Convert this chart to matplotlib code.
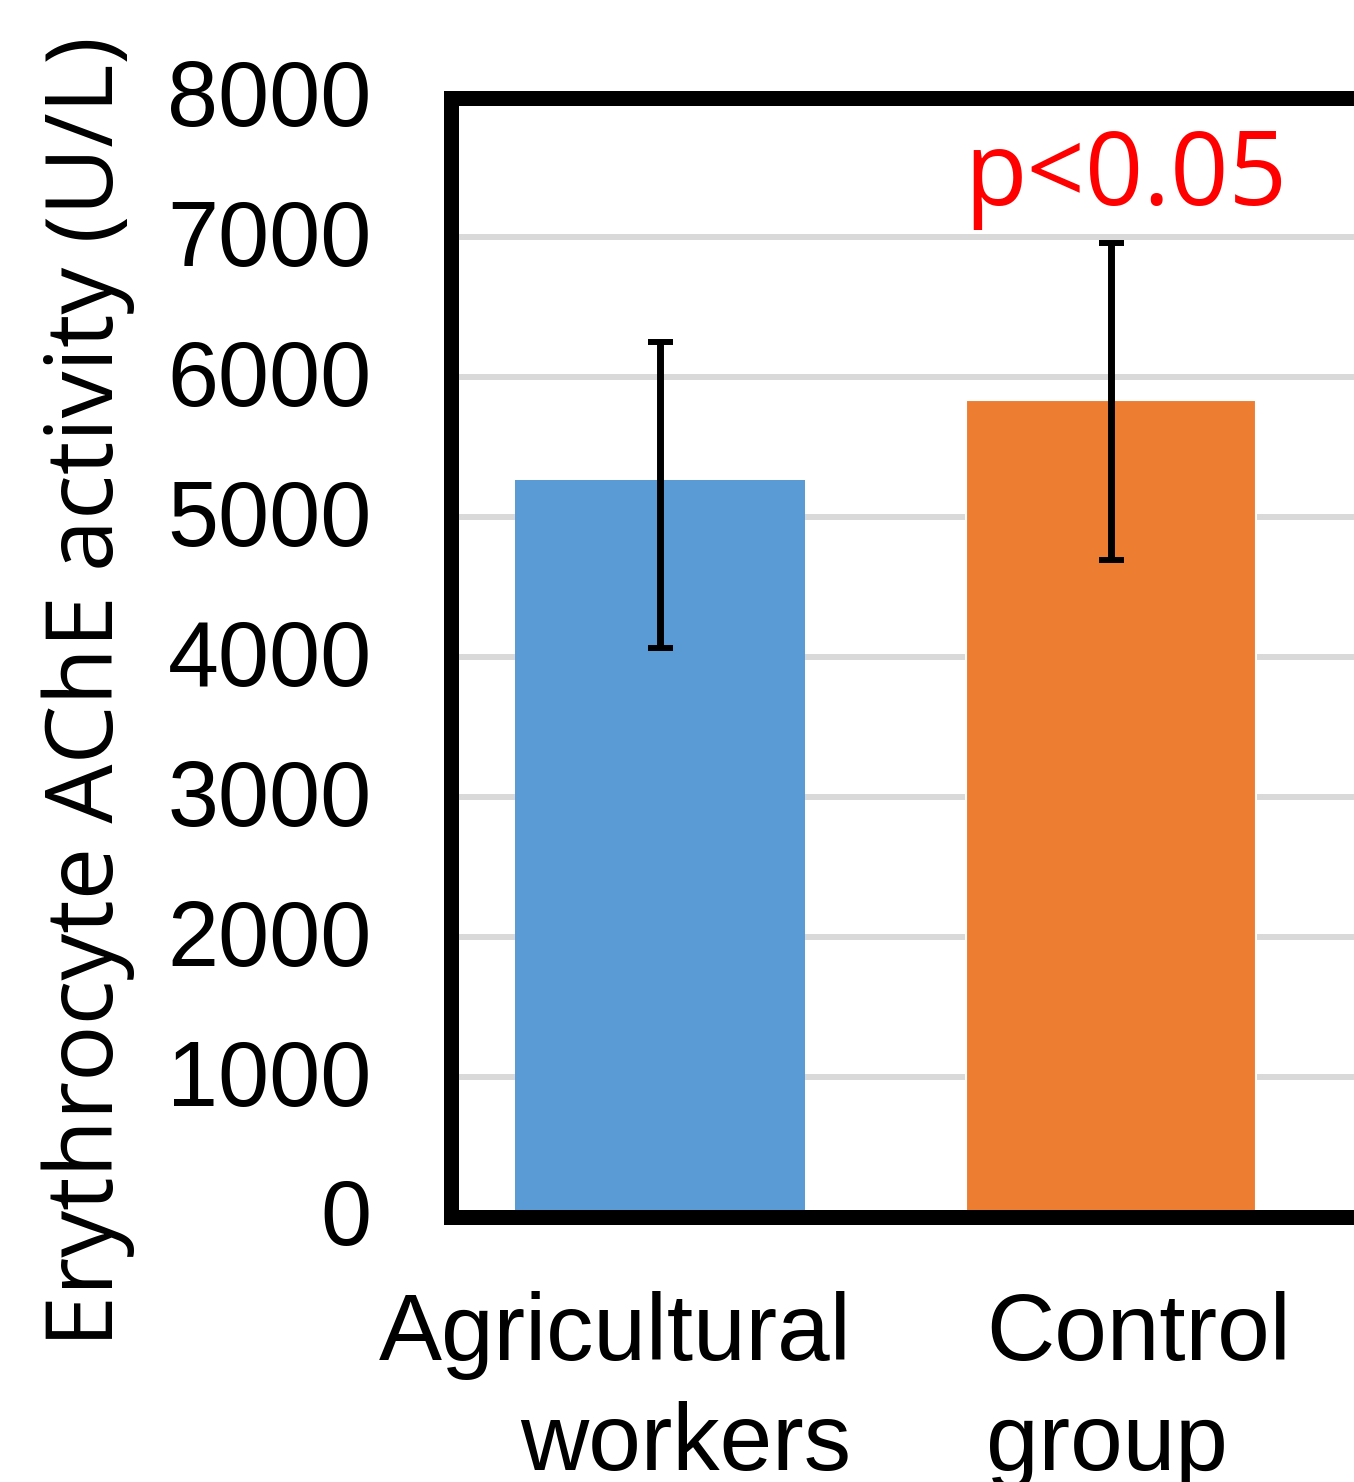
import numpy as np
import matplotlib
matplotlib.use("Agg")
import matplotlib.pyplot as plt
import matplotlib.transforms as mtransforms

# data
groups = ["Agricultural\nworkers", "Control\ngroup"]
means = [5264, 5836]
err_low = [1195, 1143]
err_high = [988, 1123]
colors = ["#5B9BD5", "#ED7D31"]
yticks = [0, 1000, 2000, 3000, 4000, 5000, 6000, 7000, 8000]

W, H = 1354, 1482
fig = plt.figure(figsize=(W / 100, H / 100), dpi=100)

# axes frame (right side runs off the picture)
x0, x1 = 451, 1400
y0, y1 = 1217, 97.5
ax = fig.add_axes([x0 / W, (H - y0) / H, (x1 - x0) / W, (y0 - y1) / H])

x = np.arange(len(groups))
ax.set_xlim(-0.463, 1.641)
ax.set_ylim(0, 8000)

ax.set_yticks(yticks)
ax.set_yticklabels([str(v) for v in yticks], fontsize=66, family="Liberation Sans")
ax.tick_params(axis="y", length=0, pad=57)
ax.set_xticks([])
# nudge tick numbers up a little
up = mtransforms.ScaledTranslation(0, 5 / 100, fig.dpi_scale_trans)
for lab in ax.get_yticklabels():
    lab.set_transform(lab.get_transform() + up)

ax.yaxis.grid(True, color="#D9D9D9", linewidth=4.3, zorder=0)
ax.set_axisbelow(True)

for s in ["left", "top", "bottom"]:
    ax.spines[s].set_linewidth(10.8)
    ax.spines[s].set_color("black")
    ax.spines[s].set_capstyle("projecting")
    ax.spines[s].set_zorder(5)
ax.spines["right"].set_visible(False)

bars = ax.bar(x, means, width=0.643, color=colors, zorder=2)
bars[1].set_edgecolor("white")
bars[1].set_linewidth(1.5)

ax.errorbar(x, means, yerr=[err_low, err_high], fmt="none", ecolor="black",
            elinewidth=5, capsize=9, capthick=4.3, zorder=3)

ax.text(0.674, 7229, "p<0.05", color="#FF0000", fontsize=73.5,
        family="Open Sans", ha="left", va="baseline")

# category labels: first right aligned, second left aligned (as in the source)
lab_tr = mtransforms.blended_transform_factory(ax.transData, ax.transAxes)
ax.text(x[0] + 0.424, -0.0665, groups[0], transform=lab_tr, fontsize=68,
        family="Liberation Sans", ha="right", va="top", multialignment="right",
        linespacing=1.3, clip_on=False)
ax.text(x[1] - 0.276, -0.0665, groups[1], transform=lab_tr, fontsize=68,
        family="Liberation Sans", ha="left", va="top", multialignment="left",
        linespacing=1.3, clip_on=False)

fig.text(113 / W, (H - 692) / H, "Erythrocyte AChE activity (U/L)", rotation=90,
         fontsize=67.3, family="Open Sans", ha="center", va="baseline",
         rotation_mode="anchor")

fig.savefig("out.png", dpi=100)
